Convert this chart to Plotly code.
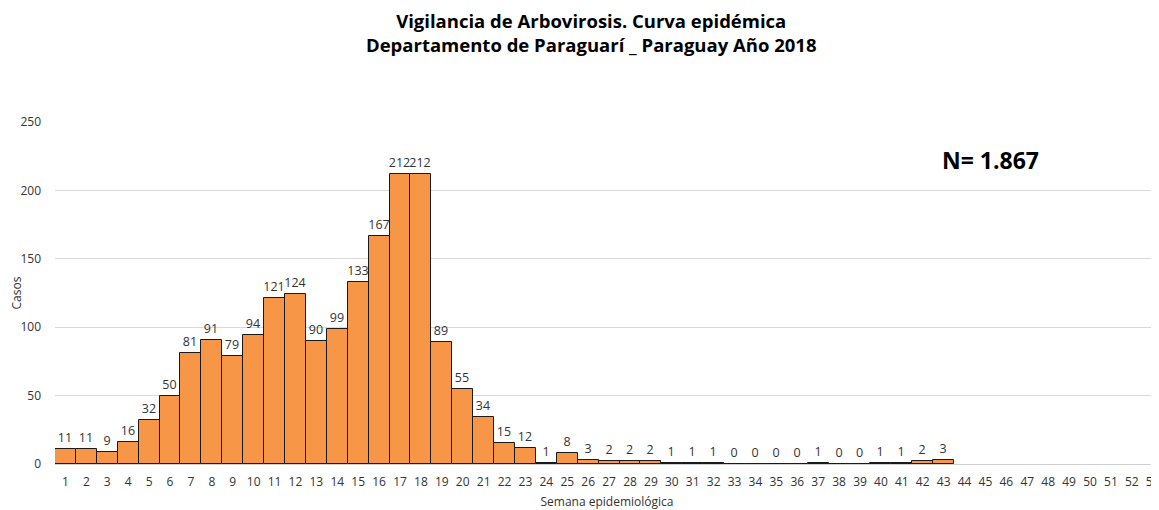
import plotly.graph_objects as go

weeks = [str(i) for i in range(1, 54)]
cases = [11, 11, 9, 16, 32, 50, 81, 91, 79, 94,
         121, 124, 90, 99, 133, 167, 212, 212, 89, 55,
         34, 15, 12, 1, 8, 3, 2, 2, 2, 1,
         1, 1, 0, 0, 0, 0, 1, 0, 0, 1,
         1, 2, 3, None, None, None, None, None, None, None,
         None, None, None]
labels = ["" if v is None else str(v) for v in cases]

title_lines = ["Vigilancia de Arbovirosis. Curva epidémica",
               "Departamento de Paraguarí _ Paraguay Año 2018"]
n_text = "N= 1.867"

# figure is drawn inside the page body, which has an 8px default margin
W, H = 1151, 502
L, T, B = 47, 114, 46
PW, PH = W - L, H - T - B

fig = go.Figure()
fig.add_trace(go.Bar(
    x=list(range(1, 54)), y=cases, text=labels,
    textposition="outside", constraintext="none", cliponaxis=False,
    textfont=dict(size=12.5, color="#333333", family="Open Sans"),
    marker=dict(color="#F79646", line=dict(color="#1a1a1a", width=1)),
    width=1.0,
))
fig.update_layout(
    width=W, height=H,
    margin=dict(l=L, r=0, t=T, b=B),
    paper_bgcolor="white", plot_bgcolor="white",
    bargap=0,
    showlegend=False,
    font=dict(family="Open Sans", color="#404040"),
    xaxis=dict(range=[0.5, 53.3], tickmode="array",
               tickvals=list(range(1, 54)), ticktext=weeks,
               ticklabeloverflow="allow", automargin=False,
               showgrid=False, zeroline=False, showline=False,
               ticks="", ticklabelstandoff=9,
               tickfont=dict(size=12, color="#333333"),
               title=dict(text="Semana epidemiológica", standoff=9,
                          font=dict(size=12, color="#333333"))),
    yaxis=dict(range=[0, 250], tickvals=[0, 50, 100, 150, 200, 250],
               automargin=False,
               showgrid=True, gridcolor="#d9d9d9", gridwidth=1,
               zeroline=True, zerolinecolor="#d0d0d0", zerolinewidth=1,
               ticks="", ticklabelstandoff=13,
               tickfont=dict(size=12, color="#333333"),
               title=dict(text="Casos", standoff=1,
                          font=dict(size=12, color="#333333"))),
    annotations=[
        dict(text="<b>" + "<br>".join(title_lines) + "</b>",
             x=(591 - 8 - L) / PW, y=(456 - (33 - 8)) / PH,
             xref="paper", yref="paper", showarrow=False,
             xanchor="center", yanchor="middle", align="center",
             font=dict(size=18.5, color="#000000", family="Open Sans")),
        dict(text="<b>" + n_text + "</b>",
             x=(990 - 8 - L) / PW, y=(456 - 152) / PH,
             xref="paper", yref="paper", showarrow=False,
             xanchor="center", yanchor="middle",
             font=dict(size=23, color="#000000")),
    ],
)
fig.write_html("out.html")
